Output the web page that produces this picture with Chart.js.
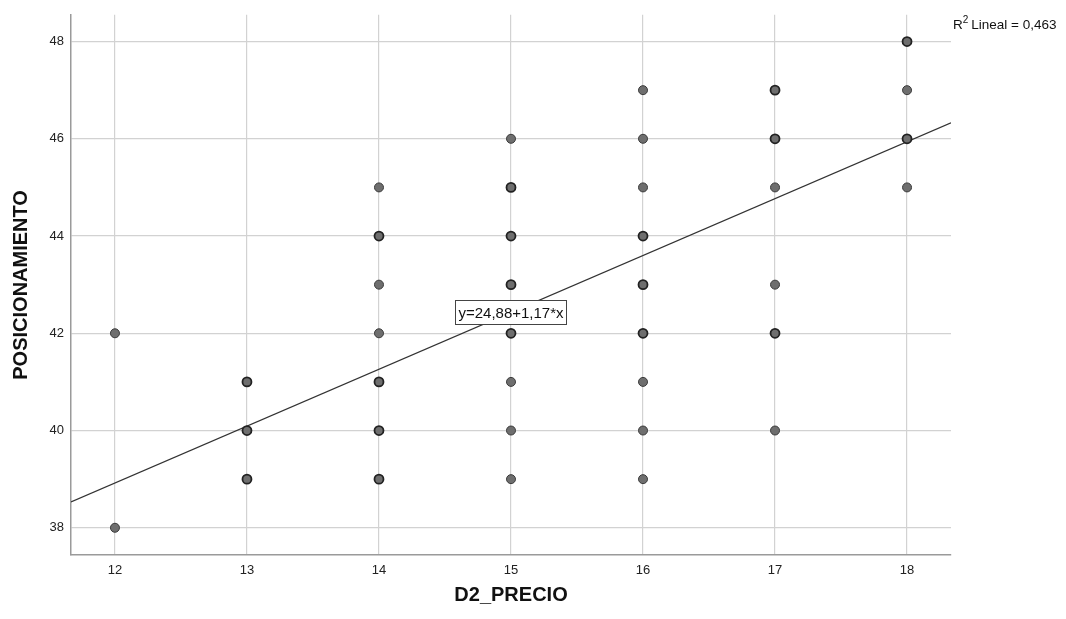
<!DOCTYPE html>
<html>
<head>
<meta charset="utf-8">
<script src="https://cdn.jsdelivr.net/npm/chart.js@4.4.1/dist/chart.umd.min.js"></script>
<style>
  html, body { margin: 0; padding: 0; background: #fff; }
  #wrap { width: 1066px; height: 619px; position: relative; }
</style>
</head>
<body>
<div id="wrap"><canvas id="c" width="1066" height="619"></canvas></div>
<script>
// ---- Data ----
const precio   = [12, 12, 13, 13, 13, 14, 14, 14, 14, 14, 14, 14, 15, 15, 15, 15, 15, 15, 15, 15, 16, 16, 16, 16, 16, 16, 16, 16, 16, 17, 17, 17, 17, 17, 17, 18, 18, 18, 18];
const posic    = [42, 38, 41, 40, 39, 45, 44, 43, 42, 41, 40, 39, 46, 45, 44, 43, 42, 41, 40, 39, 47, 46, 45, 44, 43, 42, 41, 40, 39, 47, 46, 45, 43, 42, 40, 48, 47, 46, 45];
// estimated overlap (1 = single case, 2 = several cases on the same spot)
const overlap  = [1, 1, 2, 2, 2, 1, 2, 1, 1, 2, 2, 2, 1, 2, 2, 2, 2, 1, 1, 1, 1, 1, 1, 2, 2, 2, 1, 1, 1, 2, 2, 1, 1, 2, 1, 2, 1, 2, 1];
const xTicks   = [12, 13, 14, 15, 16, 17, 18];
const yTicks   = [38, 40, 42, 44, 46, 48];
const intercept = 24.88;
const slope     = 1.17;
const r2Text    = "0,463";
const eqText    = "y=24,88+1,17*x";
const xTitle    = "D2_PRECIO";
const yTitle    = "POSICIONAMIENTO";
const xMin = 11.667, xMax = 18.333;
const yMin = 37.44,  yMax = 48.55;

const points = precio.map((x, i) => ({ x: x, y: posic[i] }));
const fitLine = [xMin, xMax].map(x => ({ x: x, y: intercept + slope * x }));

const FONT = "'Liberation Sans', Arial, sans-serif";

const annotPlugin = {
  id: 'annot',
  afterDatasetsDraw(chart) {
    const ctx = chart.ctx;
    const xs = chart.scales.x, ys = chart.scales.y;
    // equation label box
    ctx.save();
    ctx.font = "15px " + FONT;
    const tw = ctx.measureText(eqText).width;
    const cx = xs.getPixelForValue(15);
    const cy = ys.getPixelForValue(42.43);
    const bw = tw + 6, bh = 24;
    ctx.fillStyle = '#ffffff';
    ctx.fillRect(Math.round(cx - bw / 2) + 0.5, Math.round(cy - bh / 2) + 0.5, Math.round(bw), bh);
    ctx.strokeStyle = '#444';
    ctx.lineWidth = 1;
    ctx.strokeRect(Math.round(cx - bw / 2) + 0.5, Math.round(cy - bh / 2) + 0.5, Math.round(bw), bh);
    ctx.fillStyle = '#111';
    ctx.textAlign = 'center';
    ctx.textBaseline = 'middle';
    ctx.fillText(eqText, cx, cy + 1);
    ctx.restore();

    // R2 text
    ctx.save();
    ctx.fillStyle = '#111';
    ctx.textBaseline = 'alphabetic';
    ctx.textAlign = 'left';
    let x0 = xs.right + 2;
    const base = 29;
    ctx.font = "13.5px " + FONT;
    ctx.fillText("R", x0, base);
    x0 += ctx.measureText("R").width;
    ctx.font = "10px " + FONT;
    ctx.fillText("2", x0, base - 6);
    x0 += ctx.measureText("2").width + 3;
    ctx.font = "13.5px " + FONT;
    ctx.fillText("Lineal = " + r2Text, x0, base);
    ctx.restore();
  }
};

new Chart(document.getElementById('c'), {
  type: 'scatter',
  data: {
    datasets: [
      {
        label: 'fit',
        type: 'line',
        data: fitLine,
        borderColor: '#333333',
        borderWidth: 1.2,
        pointRadius: 0,
        fill: false,
        order: 1
      },
      {
        label: 'casos',
        data: points,
        backgroundColor: '#6e6e6e',
        borderColor: ctx => (overlap[ctx.dataIndex] > 1 ? '#222222' : '#3a3a3a'),
        borderWidth: ctx => (overlap[ctx.dataIndex] > 1 ? 1.8 : 1),
        pointRadius: 4.5,
        pointHoverRadius: 4.5,
        order: 0
      }
    ]
  },
  options: {
    responsive: false,
    animation: false,
    events: [],
    layout: { padding: { left: 0, right: 115, top: 12, bottom: 0 } },
    plugins: { legend: { display: false }, tooltip: { enabled: false } },
    scales: {
      x: {
        type: 'linear',
        min: xMin, max: xMax,
        afterBuildTicks: s => { s.ticks = xTicks.map(v => ({ value: v })); },
        afterFit: s => { s.height = 64; },
        grid: { color: '#d2d2d2', lineWidth: 1.2, drawTicks: false },
        border: { color: '#9a9a9a', width: 1.5 },
        ticks: { color: '#222', font: { family: FONT, size: 13 }, padding: 8, callback: v => String(v) },
        title: { display: true, text: xTitle, color: '#111', font: { family: FONT, size: 20, weight: 'bold' }, padding: { top: 0, bottom: 12 } }
      },
      y: {
        type: 'linear',
        min: yMin, max: yMax,
        afterBuildTicks: s => { s.ticks = yTicks.map(v => ({ value: v })); },
        afterFit: s => { s.width = 71; },
        grid: { color: '#d2d2d2', lineWidth: 1.2, drawTicks: false },
        border: { color: '#9a9a9a', width: 1.5 },
        ticks: { color: '#222', font: { family: FONT, size: 13 }, padding: 7, callback: v => String(v) },
        title: { display: true, text: yTitle, color: '#111', font: { family: FONT, size: 20, weight: 'bold' }, padding: { top: 9, bottom: 0 } }
      }
    }
  },
  plugins: [annotPlugin]
});
</script>
</body>
</html>
